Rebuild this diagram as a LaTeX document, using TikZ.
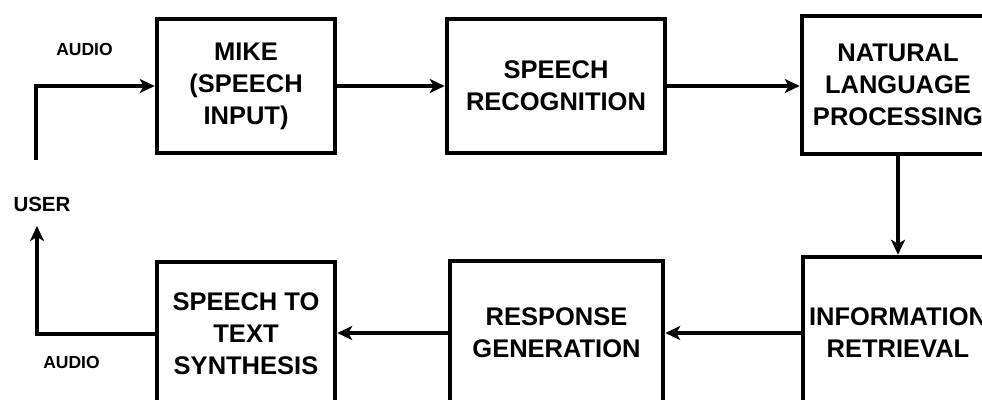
\documentclass[tikz,border=0pt]{standalone}
\usepackage{fontspec}
\setmainfont{Liberation Sans}
\usetikzlibrary{arrows.meta}
\begin{document}
\begin{tikzpicture}[x=1pt,y=-1pt,
  blk/.style={draw=black,line width=4.5pt,fill=white,align=center,inner sep=0pt,
    font=\fontsize{25.5}{32}\selectfont\bfseries},
  conn/.style={line width=3.2pt,-{Stealth[length=15pt,width=14pt,inset=4pt]}},
  lbl/.style={font=\fontsize{17.5}{20}\selectfont\bfseries,inner sep=0pt},
  ulbl/.style={font=\fontsize{20.5}{24}\selectfont\bfseries,inner sep=0pt}]
\useasboundingbox (0,0) rectangle (982,399);
\clip (0,0) rectangle (982,399);
\fill[white] (0,0) rectangle (982,399);
\node[blk,minimum width=178pt,minimum height=134pt] (mike) at (246,86) {MIKE\\(SPEECH\\INPUT)};
\node[blk,minimum width=218pt,minimum height=134pt] (sr) at (556,86) {SPEECH\\RECOGNITION};
\node[blk,minimum width=192pt,minimum height=138pt] (nlp) at (898,85) {NATURAL\\LANGUAGE\\PROCESSING};
\node[blk,minimum width=190pt,minimum height=152pt] (ir) at (898,333) {INFORMATION\\RETRIEVAL};
\node[blk,minimum width=213pt,minimum height=144pt] (rg) at (556.5,333) {RESPONSE\\GENERATION};
\node[blk,minimum width=178pt,minimum height=144pt] (stt) at (246,334) {SPEECH TO\\TEXT\\SYNTHESIS};
\node[ulbl] (user) at (42,204) {USER};
\node[lbl] (audio1) at (84.5,49) {AUDIO};
\node[lbl] (audio2) at (71.5,362) {AUDIO};
\coordinate (u1) at (36,160);
\coordinate (u2) at (37,226);
\draw[conn] (u1) |- (mike.west);
\draw[conn] (mike.east) -- (sr.west);
\draw[conn] (sr.east) -- (nlp.west |- sr.east);
\draw[conn] (nlp.south) -- (ir.north);
\draw[conn] (ir.west) -- (rg.east |- ir.west);
\draw[conn] (rg.west) -- (stt.east |- rg.west);
\draw[conn] (stt.west) -| (u2);
\end{tikzpicture}
\end{document}
